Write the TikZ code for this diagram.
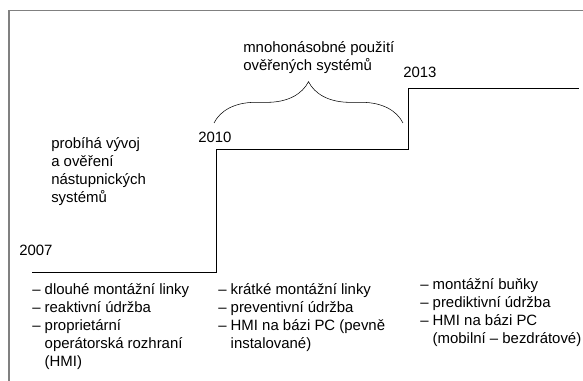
\documentclass[tikz,border=0pt]{standalone}
\usepackage{fontspec}
\setmainfont{Liberation Sans}
\usepackage{tikz}
\usetikzlibrary{decorations.pathreplacing}
\newcommand{\ind}{\hphantom{– }}

\begin{document}
\begin{tikzpicture}[x=0.75pt,y=0.75pt,yscale=-1,xscale=1,
    every node/.style={inner sep=0pt,align=left,font=\fontsize{11.2}{13.5}\selectfont}]
  \useasboundingbox (0,0) rectangle (583,381);
  \draw [color={rgb,255:red,128;green,128;blue,128},line width=1.2] (9,381) -- (9,10.5) -- (583,10.5);
  \draw [line width=0.7] (32,272) -- (216,272) -- (216,149) -- (408,149) -- (408,88) -- (579,88);
  \draw [decorate,decoration={brace,amplitude=31pt}] (214,123) -- (403,123);
  \node (y2007) at (19,256) [anchor=base west] {2007};
  \node (y2010) at (198,143) [anchor=base west] {2010};
  \node (y2013) at (403,78) [anchor=base west] {2013};
  \node (vyvoj) at (51,203) [anchor=base west]
        {probíhá vývoj\\a ověření\\nástupnických\\systémů};
  \node (pouziti) at (243,71) [anchor=base west]
        {mnohonásobné použití\\ověřených systémů};
  \node (col1) at (32,367) [anchor=base west]
        {– dlouhé montážní linky\\– reaktivní údržba\\– proprietární\\\ind operátorská rozhraní\\\ind (HMI)};
  \node (col2) at (218,349) [anchor=base west]
        {– krátké montážní linky\\– preventivní údržba\\– HMI na bázi PC (pevně\\\ind instalované)};
  \node (col3) at (420,344) [anchor=base west]
        {– montážní buňky\\– prediktivní údržba\\– HMI na bázi PC\\\ind (mobilní – bezdrátové)};
\end{tikzpicture}
\end{document}
